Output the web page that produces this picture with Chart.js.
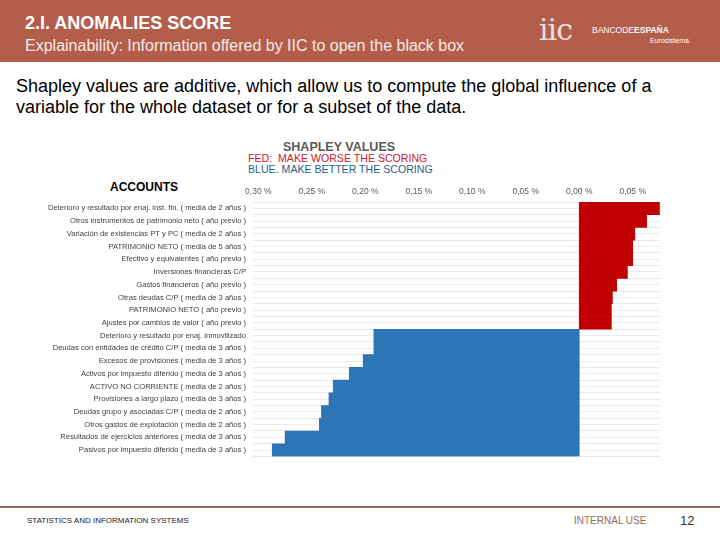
<!DOCTYPE html>
<html>
<head>
<meta charset="utf-8">
<script src="https://cdn.jsdelivr.net/npm/chart.js@4.4.1/dist/chart.umd.min.js"></script>
<style>
  body { margin: 0; width: 720px; height: 540px; position: relative; background: #fff; font-family: "Liberation Sans", Arial, sans-serif; overflow: hidden; }
  .abs { position: absolute; white-space: nowrap; }
  #header { left: 0; top: 0; width: 720px; height: 62px; background: #b35e4b; }
  #chartBox { position: absolute; left: 0; top: 180px; width: 680px; height: 288px; }
</style>
</head>
<body>
<div id="header" class="abs"></div>
<div class="abs" style="left:25px; top:13px; color:#fff; font-size:18px; font-weight:bold;">2.I. ANOMALIES SCORE</div>
<div class="abs" style="left:25px; top:37px; color:#f6ebe7; font-size:16px;">Explainability: Information offered by IIC to open the black box</div>
<div class="abs" style="left:539px; top:12px; color:#e4e0de; font-size:30px; font-family:'DejaVu Serif', serif; letter-spacing:-1px;">iic</div>
<div class="abs" style="left:592px; top:25px; color:#fff; font-size:8.5px;">BANCODE<b>ESPAÑA</b></div>
<div class="abs" style="left:650px; top:37px; color:#fff; font-size:7px;">Eurosistema</div>

<div class="abs" style="left:16px; top:76px; color:#000; font-size:18px; line-height:21px;">Shapley values are additive, which allow us to compute the global influence of a<br>variable for the whole dataset or for a subset of the data.</div>

<div class="abs" style="left:283px; top:140px; color:#595959; font-size:12.5px; font-weight:bold;">SHAPLEY VALUES</div>
<div class="abs" style="left:248px; top:152px; color:#c8202a; font-size:10.6px;">FED:&nbsp; MAKE WORSE THE SCORING</div>
<div class="abs" style="left:248px; top:163px; color:#1f5f8b; font-size:10.6px;">BLUE. MAKE BETTER THE SCORING</div>
<div class="abs" style="left:110px; top:180px; color:#000; font-size:12px; font-weight:bold;">ACCOUNTS</div>

<div id="chartBox"><canvas id="myChart"></canvas></div>

<div class="abs" style="left:0; top:506px; width:720px; height:2px; background:#8c6d60;"></div>
<div class="abs" style="left:27px; top:516px; color:#222; font-size:8px;">STATISTICS AND INFORMATION SYSTEMS</div>
<div class="abs" style="left:574px; top:515px; color:#8c6d60; font-size:10px;">INTERNAL USE</div>
<div class="abs" style="left:680px; top:513px; color:#333; font-size:13px;">12</div>

<script>
// Accounts (categories) and their Shapley values in %
const accounts = [
  "Deterioro y resultado por enaj. inst. fin. ( media de 2 años )",
  "Otros instrumentos de patrimonio neto ( año previo )",
  "Variación de existencias PT y PC ( media de 2 años )",
  "PATRIMONIO NETO ( media de 5 años )",
  "Efectivo y equivalentes ( año previo )",
  "Inversiones financieras C/P",
  "Gastos financieros ( año previo )",
  "Otras deudas C/P ( media de 3 años )",
  "PATRIMONIO NETO ( año previo )",
  "Ajustes por cambios de valor ( año previo )",
  "Deterioro y resultado por enaj. inmovilizado",
  "Deudas con entidades de crédito C/P ( media de 3 años )",
  "Excesos de provisiones ( media de 3 años )",
  "Activos por impuesto diferido ( media de 3 años )",
  "ACTIVO NO CORRIENTE ( media de 2 años )",
  "Provisiones a largo plazo ( media de 3 años )",
  "Deudas grupo y asociadas C/P ( media de 2 años )",
  "Otros gastos de explotación ( media de 2 años )",
  "Resultados de ejercicios anteriores ( media de 3 años )",
  "Pasivos por impuesto diferido ( media de 3 años )"
];
const shapleyValues = [
  0.075, 0.063, 0.052, 0.050, 0.050, 0.045, 0.035, 0.031, 0.030, 0.030,
  -0.192, -0.192, -0.202, -0.215, -0.230, -0.234, -0.241, -0.243, -0.275, -0.287
];
const tickValues = [-0.30, -0.25, -0.20, -0.15, -0.10, -0.05, 0.00, 0.05];

const red = '#c00000';
const blue = '#2e75b6';

const ctx = document.getElementById('myChart').getContext('2d');
const myChart = new Chart(ctx, {
  type: 'bar',
  data: {
    labels: accounts,
    datasets: [{
      data: shapleyValues,
      backgroundColor: shapleyValues.map(v => v >= 0 ? red : blue),
      barPercentage: 1,
      categoryPercentage: 1,
      borderWidth: 0
    }]
  },
  options: {
    indexAxis: 'y',
    responsive: true,
    maintainAspectRatio: false,
    animation: false,
    layout: { padding: { right: 20, top: 0, bottom: 2 } },
    plugins: {
      legend: { display: false },
      tooltip: { enabled: false }
    },
    scales: {
      x: {
        position: 'top',
        min: -0.305,
        max: 0.0755,
        afterBuildTicks: axis => { axis.ticks = tickValues.map(v => ({ value: v })); },
        afterFit: axis => { axis.height = 22; },
        grid: { display: false, drawTicks: false },
        border: { display: false },
        ticks: {
          padding: 5,
          color: '#595959',
          font: { size: 8.5, family: 'Liberation Sans' },
          callback: v => Math.abs(v).toFixed(2).replace('.', ',') + ' %'
        }
      },
      y: {
        afterFit: axis => { axis.width = 253; },
        grid: { color: '#e8e8e8', lineWidth: 1, drawTicks: false, offset: true },
        border: { display: false },
        ticks: {
          padding: 7,
          autoSkip: false,
          color: '#404040',
          font: { size: 7.6, family: 'Liberation Sans' }
        }
      },
      y2: {
        type: 'category',
        labels: accounts,
        position: 'right',
        offset: true,
        afterFit: axis => { axis.width = 0; },
        grid: { color: '#ececec', lineWidth: 1, drawTicks: false, offset: false },
        border: { display: false },
        ticks: { display: false }
      }
    }
  }
});
</script>
</body>
</html>
